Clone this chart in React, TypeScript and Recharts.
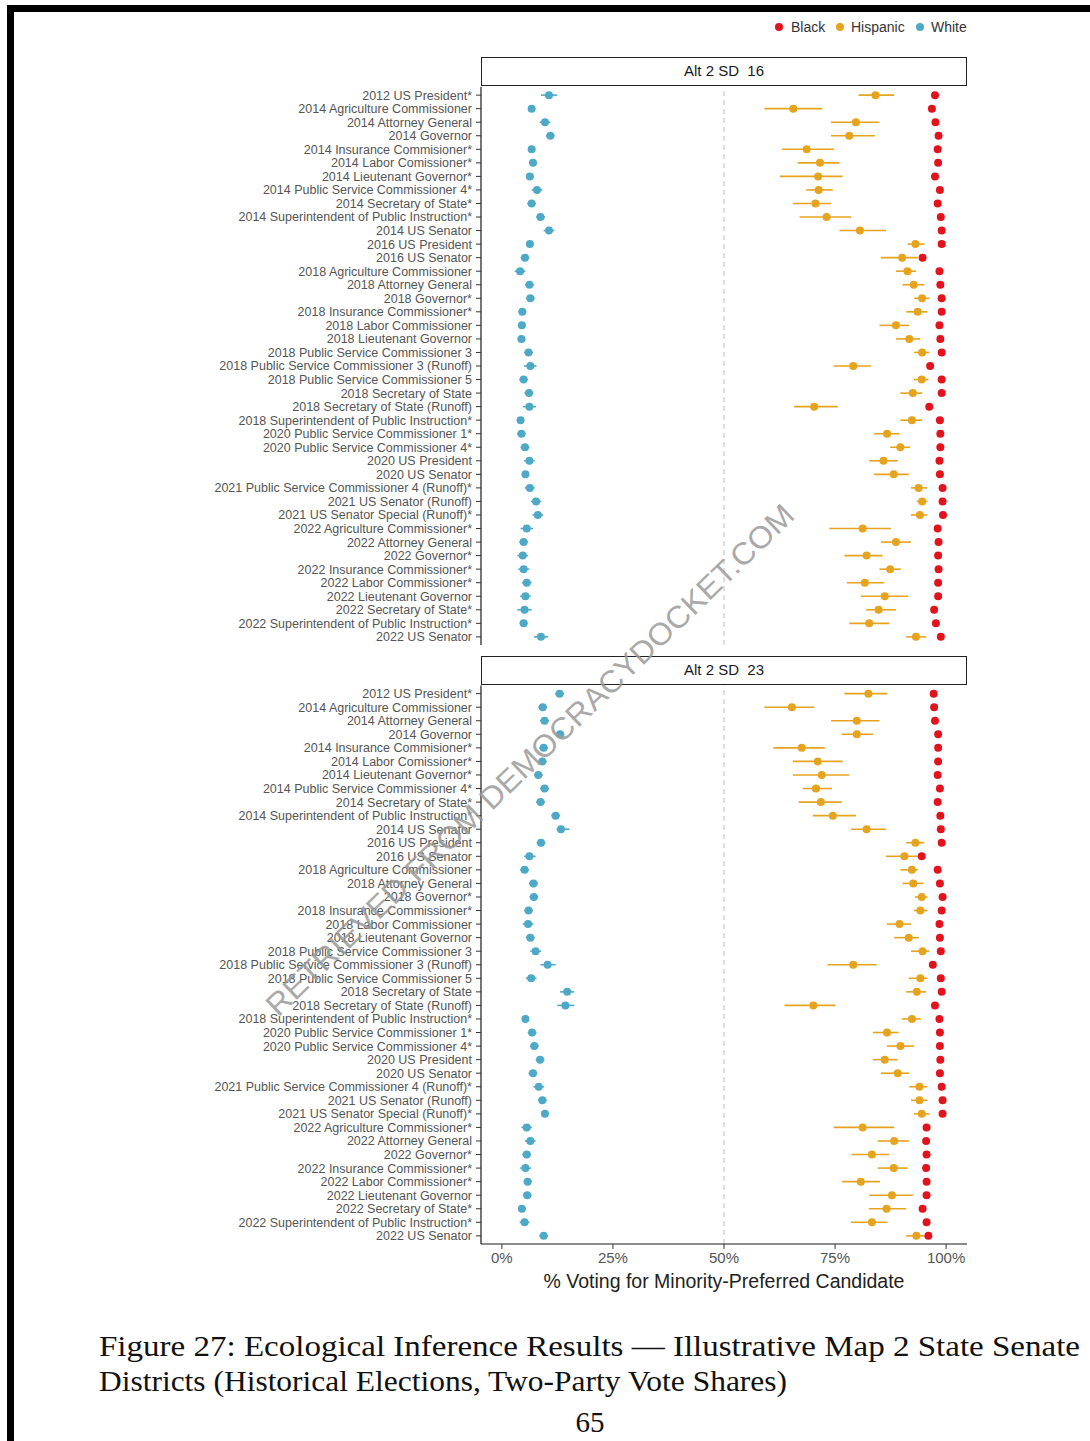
import React from 'react';
import { ScatterChart, Scatter, XAxis, YAxis, ErrorBar, ReferenceLine } from 'recharts';

// Contest names, top to bottom (same order in both districts)
const contests: string[] = [
  '2012 US President*',
  '2014 Agriculture Commissioner',
  '2014 Attorney General',
  '2014 Governor',
  '2014 Insurance Commisioner*',
  '2014 Labor Comissioner*',
  '2014 Lieutenant Governor*',
  '2014 Public Service Commissioner 4*',
  '2014 Secretary of State*',
  '2014 Superintendent of Public Instruction*',
  '2014 US Senator',
  '2016 US President',
  '2016 US Senator',
  '2018 Agriculture Commissioner',
  '2018 Attorney General',
  '2018 Governor*',
  '2018 Insurance Commissioner*',
  '2018 Labor Commissioner',
  '2018 Lieutenant Governor',
  '2018 Public Service Commissioner 3',
  '2018 Public Service Commissioner 3 (Runoff)',
  '2018 Public Service Commissioner 5',
  '2018 Secretary of State',
  '2018 Secretary of State (Runoff)',
  '2018 Superintendent of Public Instruction*',
  '2020 Public Service Commissioner 1*',
  '2020 Public Service Commissioner 4*',
  '2020 US President',
  '2020 US Senator',
  '2021 Public Service Commissioner 4 (Runoff)*',
  '2021 US Senator (Runoff)',
  '2021 US Senator Special (Runoff)*',
  '2022 Agriculture Commissioner*',
  '2022 Attorney General',
  '2022 Governor*',
  '2022 Insurance Commissioner*',
  '2022 Labor Commissioner*',
  '2022 Lieutenant Governor',
  '2022 Secretary of State*',
  '2022 Superintendent of Public Instruction*',
  '2022 US Senator',
];

const rowTicks: number[] = contests.map((_, i) => i + 1);
const pctTicks: number[] = [0, 25, 50, 75, 100];

// [estimate, lower, upper] in percent
type Est = [number, number, number];

// ---- Alt 2 SD 16 ----
const sd16White: Est[] = [
  [10.6, 8.8, 12.4], [6.7, 5.9, 7.5], [9.7, 8.5, 10.9], [10.9, 9.9, 11.9], [6.7, 5.9, 7.5],
  [7.0, 6.2, 7.8], [6.3, 5.4, 7.2], [7.9, 6.7, 9.1], [6.7, 5.7, 7.7], [8.7, 7.7, 9.7],
  [10.6, 9.4, 11.8], [6.3, 5.5, 7.1], [5.2, 4.2, 6.2], [4.1, 2.9, 5.3], [6.2, 5.2, 7.2],
  [6.4, 5.4, 7.4], [4.6, 3.7, 5.5], [4.5, 3.6, 5.4], [4.4, 3.5, 5.3], [6.0, 5.0, 7.0],
  [6.4, 5.0, 7.8], [4.9, 3.9, 5.9], [6.1, 5.1, 7.1], [6.2, 4.7, 7.7], [4.2, 3.4, 5.0],
  [4.4, 3.4, 5.4], [5.2, 4.2, 6.2], [6.2, 5.0, 7.4], [5.3, 4.5, 6.1], [6.3, 5.2, 7.4],
  [7.7, 6.5, 8.9], [8.1, 6.9, 9.3], [5.6, 4.2, 7.0], [4.9, 3.9, 5.9], [4.7, 3.5, 5.9],
  [4.9, 3.7, 6.1], [5.6, 4.5, 6.7], [5.3, 4.1, 6.5], [5.1, 3.5, 6.7], [4.9, 4.0, 5.8],
  [8.8, 7.2, 10.4],
];
const sd16Hispanic: Est[] = [
  [84.1, 80.3, 88.3], [65.6, 59.1, 72.1], [79.7, 74.1, 85.0], [78.2, 74.1, 84.0], [68.6, 63.0, 74.8],
  [71.6, 66.6, 76.0], [71.2, 62.6, 76.7], [71.3, 68.5, 74.5], [70.6, 65.5, 74.1], [73.1, 67.0, 78.6],
  [80.6, 76.0, 86.5], [93.1, 91.3, 95.1], [90.1, 85.3, 93.6], [91.3, 88.7, 93.2], [92.7, 90.2, 95.1],
  [94.6, 92.8, 96.2], [93.6, 91.0, 95.8], [88.7, 85.0, 91.7], [91.7, 88.7, 94.2], [94.6, 92.8, 96.2],
  [79.1, 74.7, 83.2], [94.5, 92.7, 96.0], [92.5, 89.7, 94.6], [70.3, 65.8, 75.6], [92.3, 89.7, 94.6],
  [86.7, 83.8, 89.5], [89.7, 87.4, 91.9], [85.9, 82.7, 89.1], [88.2, 83.8, 91.6], [93.8, 92.1, 95.7],
  [94.6, 93.4, 95.8], [94.1, 92.1, 95.8], [81.2, 73.7, 87.6], [88.7, 85.3, 92.1], [82.1, 77.1, 85.7],
  [87.4, 85.0, 89.8], [81.7, 77.7, 86.1], [86.2, 80.8, 91.5], [84.8, 82.0, 88.7], [82.7, 78.2, 87.2],
  [93.2, 91.0, 95.5],
];
const sd16Black: Est[] = [
  [97.5, 97.0, 98.0], [96.8, 96.2, 97.4], [97.6, 97.1, 98.1], [98.3, 97.8, 98.8], [98.1, 97.6, 98.6],
  [98.2, 97.7, 98.7], [97.5, 97.0, 98.0], [98.6, 98.1, 99.1], [98.1, 97.6, 98.6], [98.8, 98.3, 99.3],
  [99.0, 98.5, 99.5], [99.0, 98.5, 99.5], [94.7, 94.0, 95.4], [98.5, 98.0, 99.0], [98.7, 98.2, 99.2],
  [99.0, 98.5, 99.5], [99.0, 98.5, 99.5], [98.5, 98.0, 99.0], [98.7, 98.2, 99.2], [99.0, 98.5, 99.5],
  [96.4, 95.8, 97.0], [99.0, 98.5, 99.5], [99.0, 98.5, 99.5], [96.2, 95.6, 96.8], [98.6, 98.1, 99.1],
  [98.7, 98.2, 99.2], [98.7, 98.2, 99.2], [98.5, 98.0, 99.0], [98.6, 98.1, 99.1], [99.2, 98.7, 99.7],
  [99.2, 98.7, 99.7], [99.3, 98.8, 99.8], [98.1, 97.6, 98.6], [98.3, 97.8, 98.8], [98.2, 97.7, 98.7],
  [98.3, 97.8, 98.8], [98.2, 97.7, 98.7], [98.2, 97.7, 98.7], [97.3, 96.8, 97.8], [97.7, 97.2, 98.2],
  [98.8, 98.3, 99.3],
];

// ---- Alt 2 SD 23 ----
const sd23White: Est[] = [
  [13.0, 12.0, 14.0], [9.2, 8.2, 10.2], [9.6, 8.6, 10.6], [13.1, 12.1, 14.1], [9.4, 8.4, 10.4],
  [9.1, 8.1, 10.1], [8.2, 7.2, 9.2], [9.6, 8.6, 10.6], [8.7, 7.7, 9.7], [12.1, 11.1, 13.1],
  [13.3, 12.3, 15.2], [8.8, 7.8, 9.8], [6.2, 5.0, 7.6], [5.1, 4.1, 6.1], [7.1, 6.1, 8.1],
  [7.2, 6.2, 8.2], [6.0, 5.0, 7.0], [5.9, 4.7, 7.1], [6.4, 5.4, 7.4], [7.6, 6.4, 8.8],
  [10.3, 8.7, 12.1], [6.6, 5.4, 7.8], [14.7, 13.1, 16.3], [14.3, 12.5, 16.3], [5.3, 4.5, 6.1],
  [6.8, 5.8, 7.8], [7.3, 6.3, 8.3], [8.6, 7.6, 9.6], [7.0, 6.0, 8.0], [8.3, 7.1, 9.5],
  [9.1, 8.1, 10.1], [9.7, 8.9, 10.5], [5.6, 4.4, 6.8], [6.4, 5.2, 7.6], [5.6, 4.6, 6.6],
  [5.3, 4.1, 6.5], [5.8, 4.9, 6.7], [5.7, 4.7, 6.7], [4.5, 3.6, 5.4], [5.1, 4.0, 6.2],
  [9.4, 8.4, 10.4],
];
const sd23Hispanic: Est[] = [
  [82.5, 77.1, 86.8], [65.3, 59.1, 70.3], [79.9, 74.1, 85.0], [79.9, 76.5, 83.6], [67.5, 61.1, 72.7],
  [71.1, 65.5, 76.7], [72.0, 65.5, 78.2], [70.7, 67.7, 74.3], [71.8, 66.8, 76.5], [74.5, 70.0, 79.7],
  [82.1, 78.6, 86.5], [93.1, 91.0, 95.1], [90.6, 86.5, 93.6], [92.3, 89.7, 93.6], [92.6, 90.2, 94.9],
  [94.5, 93.0, 95.8], [94.2, 92.7, 95.8], [89.5, 86.7, 92.1], [91.6, 88.3, 93.9], [94.7, 92.1, 96.2],
  [79.1, 73.3, 84.4], [94.2, 91.6, 95.8], [93.4, 91.0, 95.5], [70.1, 63.6, 75.1], [92.3, 90.0, 94.3],
  [86.7, 83.5, 89.3], [89.7, 86.7, 92.8], [86.2, 83.5, 89.1], [89.1, 85.3, 91.7], [94.0, 91.7, 95.8],
  [94.0, 92.1, 95.8], [94.5, 92.7, 96.2], [81.2, 74.7, 88.3], [88.3, 84.6, 91.6], [83.3, 78.7, 87.2],
  [88.2, 84.6, 91.3], [80.8, 76.6, 85.1], [87.8, 82.7, 92.5], [86.6, 82.6, 91.0], [83.3, 78.6, 86.8],
  [93.3, 91.0, 95.1],
];
const sd23Black: Est[] = [
  [97.2, 96.7, 97.7], [97.3, 96.8, 97.8], [97.5, 97.0, 98.0], [98.2, 97.7, 98.7], [98.2, 97.7, 98.7],
  [98.2, 97.7, 98.7], [98.1, 97.6, 98.6], [98.6, 98.1, 99.1], [98.1, 97.6, 98.6], [98.7, 98.2, 99.2],
  [98.8, 98.3, 99.3], [99.0, 98.5, 99.5], [94.5, 93.8, 95.2], [98.1, 97.6, 98.6], [98.6, 98.1, 99.1],
  [99.2, 98.7, 99.7], [99.0, 98.5, 99.5], [98.5, 98.0, 99.0], [98.6, 98.1, 99.1], [98.8, 98.3, 99.3],
  [97.0, 96.4, 97.6], [98.8, 98.3, 99.3], [99.0, 98.5, 99.5], [97.5, 97.0, 98.0], [98.5, 98.0, 99.0],
  [98.6, 98.1, 99.1], [98.6, 98.1, 99.1], [98.7, 98.2, 99.2], [98.6, 98.1, 99.1], [99.0, 98.5, 99.5],
  [99.2, 98.7, 99.7], [99.2, 98.7, 99.7], [95.6, 95.1, 96.1], [95.5, 95.0, 96.0], [95.6, 95.1, 96.1],
  [95.5, 95.0, 96.0], [95.6, 95.1, 96.1], [95.6, 95.1, 96.1], [94.7, 94.2, 95.2], [95.6, 95.1, 96.1],
  [96.0, 95.5, 96.5],
];

const groups: string[] = ['Black', 'Hispanic', 'White'];
const panelTitles: string[] = ['Alt 2 SD  16', 'Alt 2 SD  23'];
const xTitle = '% Voting for Minority-Preferred Candidate';
const captionLines: string[] = [
  'Figure 27:  Ecological Inference Results \u2014 Illustrative Map 2 State Senate',
  'Districts (Historical Elections, Two-Party Vote Shares)',
];
const pageNumber = '65';

const COLORS: Record<string, string> = {
  Black: '#e3131d',
  Hispanic: '#e6a31e',
  White: '#4ea9c7',
};

const SANS = '"Liberation Sans", Arial, Helvetica, sans-serif';
const SERIF = '"Liberation Serif", "Times New Roman", serif';

const toPoints = (rows: Est[]) =>
  rows.map(([mid, lo, hi], i) => ({ x: mid, y: i + 1, err: [mid - lo, hi - mid] }));

const dotShape = (color: string) => (props: any) =>
  props.cx == null || props.cy == null ? <g /> : <circle cx={props.cx} cy={props.cy} r={4} fill={color} />;

type PanelProps = {
  top: number;
  height: number;
  marginTop: number;
  marginBottom: number;
  showX: boolean;
  xHeight: number;
  white: Est[];
  hispanic: Est[];
  black: Est[];
};

function Panel({ top, height, marginTop, marginBottom, showX, xHeight, white, hispanic, black }: PanelProps) {
  const series: [string, Est[]][] = [
    ['White', white],
    ['Hispanic', hispanic],
    ['Black', black],
  ];
  return (
    <div style={{ position: 'absolute', left: 0, top }}>
      <ScatterChart width={980} height={height} margin={{ top: marginTop, right: 13, bottom: marginBottom, left: 0 }}>
        <XAxis
          type="number"
          dataKey="x"
          domain={[-4.7, 104.7]}
          allowDataOverflow
          ticks={pctTicks}
          interval={0}
          tickFormatter={(v: number) => `${v}%`}
          hide={!showX}
          height={xHeight}
          axisLine={{ stroke: '#1a1a1a', strokeWidth: 1.2 }}
          tickLine={{ stroke: '#333' }}
          tickSize={5}
          tickMargin={3}
          tick={{ fontSize: 15, fill: '#555', fontFamily: SANS }}
        />
        <YAxis
          type="number"
          dataKey="y"
          domain={[0.4, 41.6]}
          allowDataOverflow
          reversed
          ticks={rowTicks}
          interval={0}
          tickFormatter={(v: number) => contests[v - 1] ?? ''}
          width={481}
          axisLine={{ stroke: '#1a1a1a', strokeWidth: 1.2 }}
          tickLine={{ stroke: '#333' }}
          tickSize={5}
          tickMargin={4}
          tick={{ fontSize: 12.5, fill: '#555', fontFamily: SANS }}
        />
        <ReferenceLine x={50} stroke="#bdbdbd" strokeDasharray="5 4" strokeWidth={1} />
        {series.map(([name, rows]) => (
          <Scatter
            key={name}
            name={name}
            data={toPoints(rows)}
            fill={COLORS[name]}
            shape={dotShape(COLORS[name])}
            isAnimationActive={false}
          >
            <ErrorBar dataKey="err" direction="x" width={0} stroke={COLORS[name]} strokeWidth={1.6} />
          </Scatter>
        ))}
      </ScatterChart>
    </div>
  );
}

function Strip({ top, label }: { top: number; label: string }) {
  return (
    <div
      style={{
        position: 'absolute',
        left: 481,
        top,
        width: 486,
        height: 29,
        boxSizing: 'border-box',
        border: '1.5px solid #222',
        background: '#fff',
        fontFamily: SANS,
        fontSize: 15,
        color: '#1a1a1a',
        textAlign: 'center',
        lineHeight: '26px',
        whiteSpace: 'pre',
      }}
    >
      {label}
    </div>
  );
}

function Legend() {
  const items = [
    { name: groups[0], dot: 9, text: 21 },
    { name: groups[1], dot: 70, text: 81 },
    { name: groups[2], dot: 150, text: 161 },
  ];
  return (
    <svg style={{ position: 'absolute', left: 770, top: 12 }} width={220} height={30}>
      {items.map((it) => (
        <g key={it.name}>
          <circle cx={it.dot} cy={15} r={4} fill={COLORS[it.name]} />
          <text x={it.text} y={15} dominantBaseline="central" fontFamily={SANS} fontSize={14} fill="#333">
            {it.name}
          </text>
        </g>
      ))}
    </svg>
  );
}

export default function App() {
  return (
    <div style={{ position: 'absolute', left: 0, top: 0, width: 1090, height: 1441, background: '#fff', overflow: 'hidden' }}>
      {/* page frame */}
      <div style={{ position: 'absolute', left: 7, top: 5, width: 1083, height: 7, background: '#000' }} />
      <div style={{ position: 'absolute', left: 7, top: 5, width: 7, height: 1436, background: '#000' }} />

      <Legend />

      <Panel top={0} height={660} marginTop={87} marginBottom={15} showX={false} xHeight={0} white={sd16White} hispanic={sd16Hispanic} black={sd16Black} />
      <Strip top={57} label={panelTitles[0]} />

      <Panel top={600} height={700} marginTop={85.5} marginBottom={0} showX={true} xHeight={56} white={sd23White} hispanic={sd23Hispanic} black={sd23Black} />
      <Strip top={656} label={panelTitles[1]} />

      <div
        style={{
          position: 'absolute',
          left: 481,
          top: 1270,
          width: 486,
          textAlign: 'center',
          fontFamily: SANS,
          fontSize: 19.5,
          lineHeight: '22px',
          color: '#222',
          whiteSpace: 'nowrap',
        }}
      >
        {xTitle}
      </div>

      {/* caption and page number */}
      <svg style={{ position: 'absolute', left: 0, top: 1300 }} width={1090} height={141}>
        <text x={99} y={56} fontFamily={SERIF} fontSize={29} fill="#111" textLength={981} lengthAdjust="spacingAndGlyphs">
          {captionLines[0]}
        </text>
        <text x={99} y={91} fontFamily={SERIF} fontSize={29} fill="#111" textLength={688} lengthAdjust="spacingAndGlyphs">
          {captionLines[1]}
        </text>
        <text x={590} y={132} fontFamily={SERIF} fontSize={29} fill="#111" textAnchor="middle">
          {pageNumber}
        </text>
      </svg>

      {/* diagonal watermark */}
      <svg style={{ position: 'absolute', left: 0, top: 0, pointerEvents: 'none' }} width={1090} height={1441}>
        <text
          x={530}
          y={760}
          transform="rotate(-44 530 760)"
          textAnchor="middle"
          dominantBaseline="central"
          fontFamily={SANS}
          fontSize={31}
          fill="#9a9a9a"
          fillOpacity={0.85}
          textLength={720}
          lengthAdjust="spacingAndGlyphs"
        >
          RETRIEVED FROM DEMOCRACYDOCKET.COM
        </text>
      </svg>
    </div>
  );
}
